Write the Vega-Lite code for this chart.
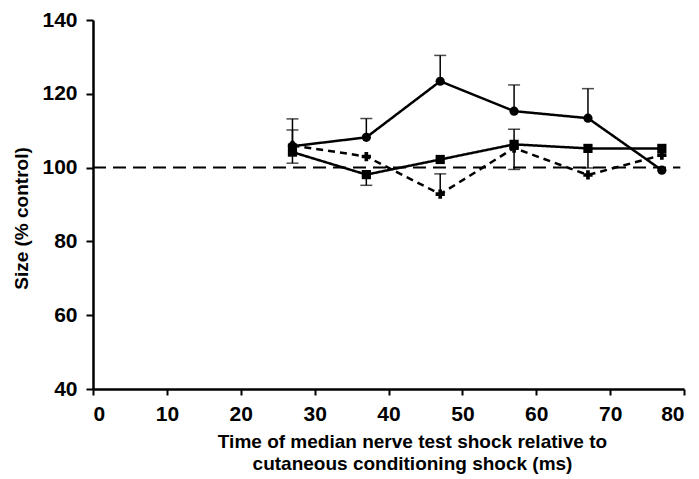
{
  "$schema": "https://vega.github.io/schema/vega-lite/v6.json",
  "width": 591,
  "height": 369,
  "autosize": "none",
  "padding": {"left": 93, "top": 20, "right": 15, "bottom": 90},
  "background": "white",
  "config": {
    "view": {"stroke": null},
    "axis": {
      "grid": false,
      "domainColor": "black",
      "domainWidth": 2.5,
      "tickColor": "black",
      "tickWidth": 2,
      "labelFont": "Liberation Sans",
      "labelFontWeight": "bold",
      "labelFontSize": 21,
      "labelColor": "black",
      "titleFont": "Liberation Sans",
      "titleFontWeight": "bold",
      "titleFontSize": 19,
      "titleColor": "black"
    }
  },
  "datasets": {
    "pts": [
      {"series": "circle", "x": 27, "y": 105.8},
      {"series": "circle", "x": 37, "y": 108.2},
      {"series": "circle", "x": 47, "y": 123.4},
      {"series": "circle", "x": 57, "y": 115.3},
      {"series": "circle", "x": 67, "y": 113.4},
      {"series": "circle", "x": 77, "y": 99.3},
      {"series": "square", "x": 27, "y": 104.2},
      {"series": "square", "x": 37, "y": 98.1},
      {"series": "square", "x": 47, "y": 102.2},
      {"series": "square", "x": 57, "y": 106.3},
      {"series": "square", "x": 67, "y": 105.2},
      {"series": "square", "x": 77, "y": 105.2},
      {"series": "cross", "x": 27, "y": 106},
      {"series": "cross", "x": 37, "y": 103},
      {"series": "cross", "x": 47, "y": 92.8},
      {"series": "cross", "x": 57, "y": 105.3},
      {"series": "cross", "x": 67, "y": 98},
      {"series": "cross", "x": 77, "y": 103.4}
    ],
    "err": [
      {"series": "circle", "x": 27, "y": 105.8, "e": 113.2},
      {"series": "circle", "x": 37, "y": 108.2, "e": 113.3},
      {"series": "circle", "x": 47, "y": 123.4, "e": 130.4},
      {"series": "circle", "x": 57, "y": 115.3, "e": 122.4},
      {"series": "circle", "x": 67, "y": 113.4, "e": 121.4},
      {"series": "cross", "x": 27, "y": 106, "e": 110.2},
      {"series": "cross", "x": 47, "y": 92.8, "e": 98.3},
      {"series": "cross", "x": 57, "y": 105.3, "e": 99.5},
      {"series": "square", "x": 27, "y": 104.2, "e": 101.2},
      {"series": "square", "x": 37, "y": 98.1, "e": 95.2},
      {"series": "square", "x": 57, "y": 106.3, "e": 110.4},
      {"series": "square", "x": 67, "y": 105.2, "e": 99.9}
    ],
    "ref": [{"x": 0, "x2": 79.5, "y": 100}]
  },
  "layer": [
    {
      "data": {"name": "ref"},
      "mark": {"type": "rule", "color": "black", "strokeWidth": 2, "strokeDash": [13, 7]},
      "encoding": {
        "x": {"field": "x", "type": "quantitative"},
        "x2": {"field": "x2"},
        "y": {"field": "y", "type": "quantitative"}
      }
    },
    {
      "data": {"name": "err"},
      "mark": {"type": "rule", "color": "black", "strokeWidth": 1.5},
      "encoding": {
        "x": {"field": "x", "type": "quantitative"},
        "y": {"field": "y", "type": "quantitative"},
        "y2": {"field": "e"}
      }
    },
    {
      "data": {"name": "err"},
      "mark": {"type": "tick", "color": "black", "orient": "horizontal", "size": 12, "thickness": 1.5},
      "encoding": {
        "x": {"field": "x", "type": "quantitative"},
        "y": {"field": "e", "type": "quantitative"}
      }
    },
    {
      "data": {"name": "pts"},
      "mark": {"type": "line", "color": "black", "strokeWidth": 2.5},
      "encoding": {
        "x": {"field": "x", "type": "quantitative"},
        "y": {"field": "y", "type": "quantitative"},
        "detail": {"field": "series"},
        "strokeDash": {
          "field": "series", "type": "nominal", "legend": null,
          "scale": {"domain": ["circle", "square", "cross"], "range": [[1, 0], [1, 0], [7, 5]]}
        }
      }
    },
    {
      "data": {"name": "pts"},
      "mark": {"type": "point", "filled": true, "color": "black", "opacity": 1},
      "encoding": {
        "x": {
          "field": "x", "type": "quantitative",
          "scale": {"domain": [0, 80], "nice": false},
          "axis": {
            "values": [0, 10, 20, 30, 40, 50, 60, 70, 80],
            "tickSize": 6, "labelPadding": 8,
            "title": ["Time of median nerve test shock relative to", "cutaneous conditioning shock (ms)"],
            "titlePadding": 8, "titleLineHeight": 22, "titleX": 319
          }
        },
        "y": {
          "field": "y", "type": "quantitative",
          "scale": {"domain": [40, 140], "nice": false, "zero": false},
          "axis": {
            "values": [40, 60, 80, 100, 120, 140],
            "tickSize": 7, "labelPadding": 9,
            "title": "Size (% control)", "titlePadding": 10, "titleY": 198
          }
        },
        "shape": {
          "field": "series", "type": "nominal", "legend": null,
          "scale": {"domain": ["circle", "square", "cross"], "range": ["circle", "square", "cross"]}
        },
        "size": {
          "field": "series", "type": "nominal", "legend": null,
          "scale": {"domain": ["circle", "square", "cross"], "range": [85, 85, 55]}
        }
      }
    }
  ]
}
